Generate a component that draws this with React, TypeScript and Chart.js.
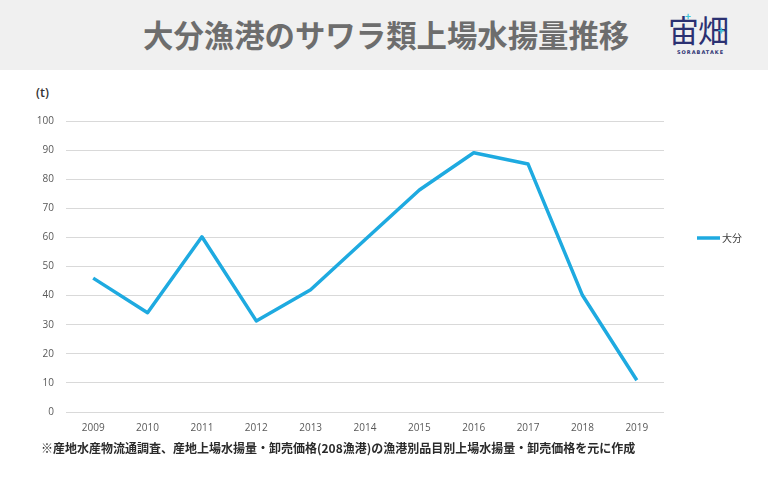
import React, { useEffect, useRef } from "react";
import { Chart, registerables } from "chart.js";

Chart.register(...registerables);

const years = ["2009", "2010", "2011", "2012", "2013", "2014", "2015", "2016", "2017", "2018", "2019"];
const oitaValues = [46, 34.1, 60.2, 31.3, 42, 59.2, 76.3, 89.1, 85.2, 40.1, 10.9];
const seriesLabel = "大分";
const yMin = 0;
const yMax = 100;
const yStep = 10;
const titleText = "大分漁港のサワラ類上場水揚量推移";
const unitText = "(t)";
const footnoteText = "※産地水産物流通調査、産地上場水揚量・卸売価格(208漁港)の漁港別品目別上場水揚量・卸売価格を元に作成";

const LINE_COLOR = "#1eaae0";
const CJK = '"Noto Sans CJK JP", "Noto Sans", sans-serif';

const legendPlugin = {
  id: "fixedLegend",
  afterDraw(chart: any) {
    const ctx = chart.ctx;
    const ds = chart.data.datasets[0];
    const y = 168;
    ctx.save();
    ctx.strokeStyle = ds.borderColor;
    ctx.lineWidth = 3.5;
    ctx.beginPath();
    ctx.moveTo(697, y);
    ctx.lineTo(720, y);
    ctx.stroke();
    ctx.fillStyle = "#404040";
    ctx.font = `10px ${CJK}`;
    ctx.textBaseline = "middle";
    ctx.textAlign = "left";
    ctx.fillText(ds.label, 722, y);
    ctx.restore();
  },
};

function LineChart() {
  const ref = useRef<HTMLCanvasElement | null>(null);
  useEffect(() => {
    if (!ref.current) return;
    const chart = new Chart(ref.current, {
      type: "line",
      data: {
        labels: years,
        datasets: [
          {
            label: seriesLabel,
            data: oitaValues,
            borderColor: LINE_COLOR,
            backgroundColor: LINE_COLOR,
            borderWidth: 3.5,
            pointRadius: 0,
            tension: 0,
            fill: false,
            borderJoinStyle: "round",
          } as any,
        ],
      },
      options: {
        animation: false,
        responsive: true,
        maintainAspectRatio: false,
        layout: { padding: { left: 0, right: 104, top: 51, bottom: 0 } },
        plugins: {
          legend: { display: false },
          tooltip: { enabled: false },
          title: { display: false },
        },
        scales: {
          x: {
            type: "category",
            offset: true,
            grid: { display: false, drawTicks: false },
            border: { display: false },
            ticks: {
              color: "#595959",
              font: { family: '"Open Sans", sans-serif', size: 10 },
              padding: 10,
              maxRotation: 0,
              autoSkip: false,
            },
            afterFit: (scale: any) => {
              scale.height = 28;
            },
          },
          y: {
            min: yMin,
            max: yMax,
            ticks: {
              stepSize: yStep,
              color: "#595959",
              font: { family: '"Open Sans", sans-serif', size: 10 },
              padding: 12,
            },
            grid: { color: "#d9d9d9", lineWidth: 1, drawTicks: false },
            border: { display: false },
            afterFit: (scale: any) => {
              scale.width = 66;
            },
          },
        },
      },
      plugins: [legendPlugin],
    });
    return () => chart.destroy();
  }, []);
  return (
    <div style={{ position: "absolute", left: 0, top: 70, width: 768, height: 370 }}>
      <canvas ref={ref} />
    </div>
  );
}

export default function App() {
  useEffect(() => {
    document.body.style.margin = "0";
  }, []);
  return (
    <div style={{ position: "relative", width: 768, height: 485, background: "#ffffff", overflow: "hidden" }}>
      <div style={{ position: "absolute", left: 0, top: 0, width: 768, height: 70, background: "#f0f0f0" }} />
      <div
        style={{
          position: "absolute",
          left: 143,
          top: 19,
          fontFamily: CJK,
          fontWeight: 700,
          fontSize: 30.4,
          lineHeight: "30px",
          color: "#6d6d6d",
          whiteSpace: "nowrap",
        }}
      >
        {titleText}
      </div>
      <div
        style={{
          position: "absolute",
          left: 668,
          top: 11,
          fontFamily: CJK,
          fontWeight: 400,
          fontSize: 31,
          lineHeight: "36px",
          color: "#2b3172",
          letterSpacing: -1,
          whiteSpace: "nowrap",
        }}
      >
        宙畑
      </div>
      <div style={{ position: "absolute", left: 685, top: 8, color: "#3cc4d8", fontSize: 10, fontWeight: 700, fontFamily: CJK }}>+</div>
      <div style={{ position: "absolute", left: 718, top: 22, color: "#3cc4d8", fontSize: 11, fontWeight: 700, fontFamily: CJK }}>+</div>
      <div
        style={{
          position: "absolute",
          left: 677,
          top: 49,
          fontFamily: '"DejaVu Sans", sans-serif',
          fontWeight: 700,
          fontSize: 5,
          letterSpacing: 1,
          color: "#2b3172",
          whiteSpace: "nowrap",
        }}
      >
        SORABATAKE
      </div>
      <div
        style={{
          position: "absolute",
          left: 36,
          top: 85,
          fontFamily: '"Open Sans", sans-serif',
          fontWeight: 600,
          fontSize: 12.5,
          lineHeight: "16px",
          color: "#333333",
        }}
      >
        {unitText}
      </div>
      <LineChart />
      <div
        style={{
          position: "absolute",
          left: 41,
          top: 440,
          fontFamily: CJK,
          fontWeight: 700,
          fontSize: 12,
          lineHeight: "16px",
          color: "#2a2a2a",
          whiteSpace: "nowrap",
        }}
      >
        {footnoteText}
      </div>
    </div>
  );
}
